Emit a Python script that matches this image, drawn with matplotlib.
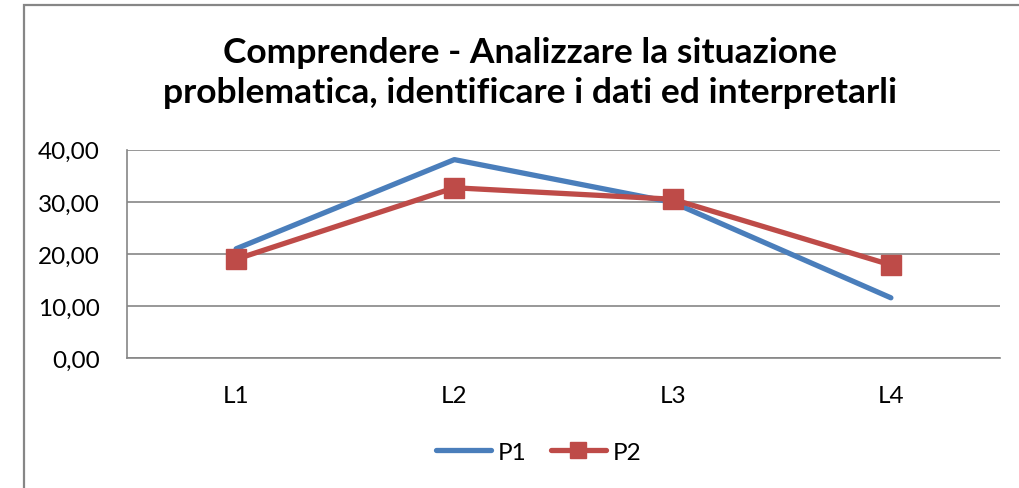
import matplotlib
matplotlib.use("Agg")
import matplotlib.pyplot as plt
from matplotlib.patches import Rectangle
from matplotlib.ticker import FuncFormatter

plt.rcParams['font.family'] = ['Lato', 'DejaVu Sans']

categories = ['L1', 'L2', 'L3', 'L4']
p1_values = [21.0, 38.1, 29.9, 11.6]
p2_values = [19.0, 32.7, 30.5, 17.9]
y_ticks = [0, 10, 20, 30, 40]

title = "Comprendere - Analizzare la situazione\nproblematica, identificare i dati ed interpretarli"

BLUE = '#4A7EBB'
RED = '#BE4B48'
GRID = '#868686'

fig = plt.figure(figsize=(10.2, 4.89), dpi=100)
W, H = 1020, 489

# outer chart frame (cut off at right/bottom like the reference)
fig.patches.append(Rectangle((23.5 / W, -0.05), 1.1, 1 - 5.5 / H + 0.05,
                             transform=fig.transFigure, fill=False,
                             edgecolor=GRID, linewidth=1.6))

ax = fig.add_axes([127 / W, 1 - 359.3 / H, (1000 - 127) / W, (359.3 - 150.7) / H])

x = range(len(categories))
ax.plot(x, p1_values, color=BLUE, linewidth=3.8, solid_capstyle='round',
        solid_joinstyle='round', label='P1', zorder=3)
ax.plot(x, p2_values, color=RED, linewidth=3.8, marker='s', markersize=14,
        solid_capstyle='round', solid_joinstyle='round', label='P2', zorder=4)

ax.set_xlim(-0.5, len(categories) - 0.5)
ax.set_ylim(0, 40)
ax.set_yticks(y_ticks)
ax.yaxis.set_major_formatter(FuncFormatter(lambda v, p: f"{v:.2f}".replace('.', ',')))
ax.set_xticks(list(x))
ax.set_xticklabels(categories)

ax.grid(axis='y', color=GRID, linewidth=1.2)
ax.set_axisbelow(True)
for side in ['top', 'right']:
    ax.spines[side].set_visible(False)
for side in ['left', 'bottom']:
    ax.spines[side].set_color(GRID)
    ax.spines[side].set_linewidth(1.2)
ax.tick_params(length=0, labelsize=17.5, colors='black')
ax.tick_params(axis='y', pad=19.5)
ax.tick_params(axis='x', pad=19)

fig.text(530 / W, 1 - 73 / H, title, ha='center', va='center',
         fontsize=25.5, fontweight='bold', linespacing=1.3)

fig.legend(loc='center', bbox_to_anchor=(539 / W, 1 - 453 / H), ncol=2,
           frameon=False, fontsize=17.5, handlelength=2.25, handletextpad=0.3,
           columnspacing=1.0, markerscale=0.85)

fig.savefig('out.png', dpi=100)
